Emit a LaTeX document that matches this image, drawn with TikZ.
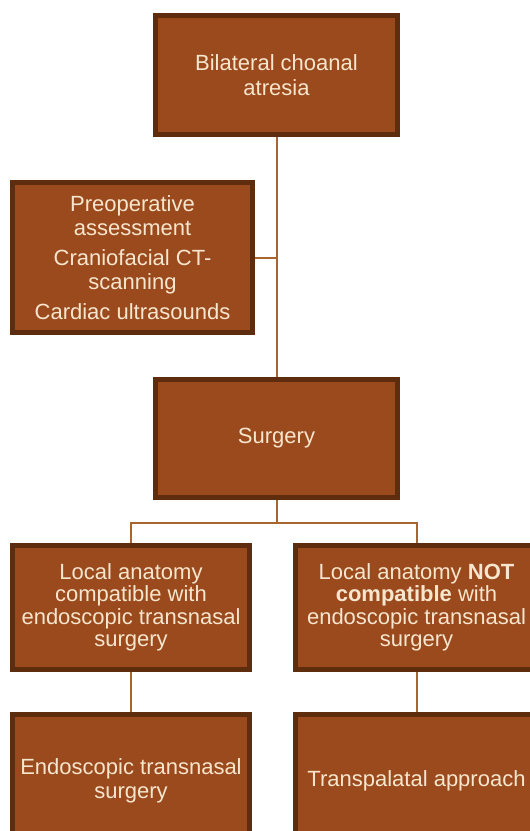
\documentclass[tikz,border=0pt]{standalone}
\usepackage{fontspec}
\setmainfont{Liberation Sans}
\usetikzlibrary{backgrounds}
\definecolor{boxfill}{HTML}{9B4A1D}
\definecolor{boxline}{HTML}{5E2D0E}
\definecolor{boxtext}{HTML}{F7E6CE}
\definecolor{conn}{HTML}{A8662E}
\begin{document}
\begin{tikzpicture}[x=1pt,y=-1pt,
  box/.style={draw=boxline, fill=boxfill, line width=5pt, inner sep=0pt,
    text=boxtext, align=center, font=\fontsize{22}{24.5}\selectfont},
  link/.style={draw=conn, line width=2pt}]
\useasboundingbox (0,0) rectangle (530,831);
\clip (0,0) rectangle (530,831);
\node[box, minimum width=242pt, minimum height=119pt] (top) at (276.5,75) {Bilateral choanal\\atresia};
\node[box, minimum width=240pt, minimum height=150pt] (pre) at (132.5,257.5) {Preoperative\\assessment\\[5pt]Craniofacial CT-\\scanning\\[5pt]Cardiac ultrasounds};
\node[box, minimum width=242pt, minimum height=118pt] (surg) at (276.5,438.5) {Surgery};
\node[box, minimum width=237pt, minimum height=124pt, font=\fontsize{22}{22.5}\selectfont] (lm) at (131,607.5) {Local anatomy\\compatible with\\endoscopic transnasal\\surgery};
\node[box, minimum width=242pt, minimum height=124pt, font=\fontsize{22}{22.5}\selectfont] (rm) at (416.5,607.5) {Local anatomy \textbf{NOT}\\\textbf{compatible} with\\endoscopic transnasal\\surgery};
\node[box, minimum width=237pt, minimum height=133pt] (lb) at (131,781) {Endoscopic transnasal\\surgery};
\node[box, minimum width=242pt, minimum height=133pt] (rb) at (416.5,781) {\raisebox{5pt}{Transpalatal approach}};
\coordinate (j) at (276.5,523);
\begin{pgfonlayer}{background}
\fill[white] (0,0) rectangle (530,831);
\draw[link] (top.south) -- (surg.north);
\draw[link] (pre.east) -- (pre.east -| top.south);
\draw[link] (surg.south) -- (j);
\draw[link] (j) -| (lm.north);
\draw[link] (j) -| (rm.north);
\draw[link] (lm.south) -- (lb.north);
\draw[link] (rm.south) -- (rb.north);
\end{pgfonlayer}
\end{tikzpicture}
\end{document}
